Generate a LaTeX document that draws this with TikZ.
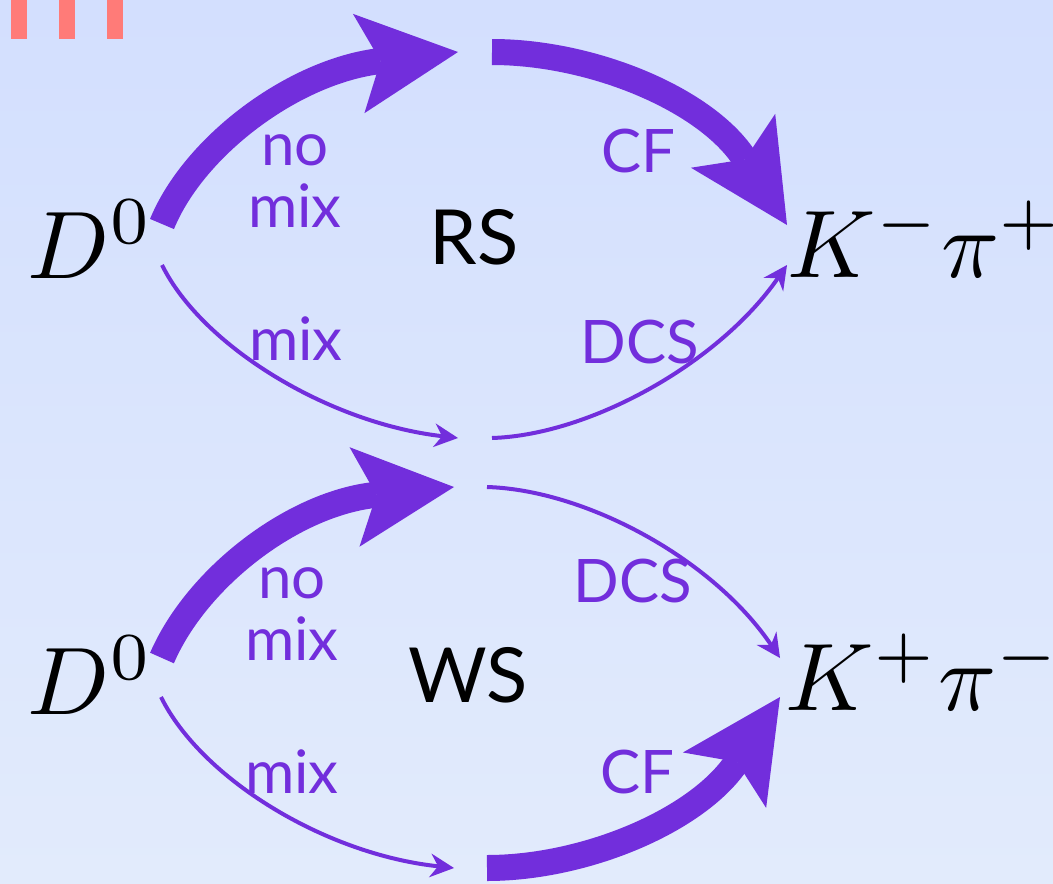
\documentclass[tikz,border=0pt]{standalone}
\usepackage{fontspec}
\newfontfamily\labelfont{Lato}
\usetikzlibrary{arrows.meta}
\definecolor{bgtop}{RGB}{211,223,254}
\definecolor{bgbot}{RGB}{226,235,252}
\definecolor{flow}{RGB}{114,46,220}
\definecolor{titlered}{RGB}{255,123,120}
\tikzset{
  thick flow/.style={draw=flow, line width=26pt,
    -{Stealth[length=100pt,width=100pt,inset=22pt,line width=0pt]}},
  thin flow/.style={draw=flow, line width=4pt,
    -{Stealth[length=24pt,width=24pt,inset=8pt,line width=0pt]}},
  state/.style={inner sep=0pt, anchor=base west, font=\fontsize{10}{12}\selectfont,
    scale=9.6, transform shape},
  tag/.style={inner sep=0pt, anchor=base, text=flow, font=\labelfont\fontsize{60}{62}\selectfont},
  kind/.style={inner sep=0pt, anchor=base, font=\labelfont\fontsize{76}{76}\selectfont},
}
\begin{document}
\begin{tikzpicture}[x=1pt,y=-1pt]
\useasboundingbox (0,0) rectangle (1053,884);
\shade[top color=bgtop, bottom color=bgbot] (0,0) rectangle (1053,884);

% title remnants along the top edge
\fill[titlered] (11,0) rectangle (27,39);
\fill[titlered] (59,0) rectangle (75,39);
\fill[titlered] (107,0) rectangle (123,39);

% states
\node[state] (d0a) at (26,278) {$D^0$};
\node[state] (kpa) at (786,277) {$K^-\pi^+$};
\node[state] (d0b) at (26,714) {$D^0$};
\node[state] (kpb) at (784,710) {$K^+\pi^-$};

% ends of the connectors
\coordinate (a1s) at (162,224); \coordinate (a1e) at (458,52);
\coordinate (a2s) at (492,52);  \coordinate (a2e) at (787,225);
\coordinate (a3s) at (162,265); \coordinate (a3e) at (458,438);
\coordinate (a4s) at (492,438); \coordinate (a4e) at (787,265);
\coordinate (b1s) at (162,658); \coordinate (b1e) at (454,487);
\coordinate (b2s) at (487,487); \coordinate (b2e) at (780,658);
\coordinate (b3s) at (161,697); \coordinate (b3e) at (454,868);
\coordinate (b4s) at (487,868); \coordinate (b4e) at (780,697);

% right-sign decay
\draw[thick flow] (a1s) .. controls (194,146) and (294,71) .. (a1e);
\draw[thick flow] (a2s) .. controls (593,52) and (707,100) .. (a2e);
\draw[thin flow] (a3s) .. controls (202,346) and (328,423) .. (a3e);
\draw[thin flow] (a4s) .. controls (590,435) and (719,363) .. (a4e);

% wrong-sign decay
\draw[thick flow] (b1s) .. controls (197,577) and (294,503) .. (b1e);
\draw[thin flow] (b2s) .. controls (585,490) and (712,558) .. (b2e);
\draw[thin flow] (b3s) .. controls (201,778) and (324,854) .. (b3e);
\draw[thick flow] (b4s) .. controls (586,868) and (698,820) .. (b4e);

% labels
\node[tag] (nmA1) at (295,165) {no};
\node[tag] (nmA2) at (295,227) {mix};
\node[tag] (cfA) at (638,172) {CF};
\node[tag] (mxA) at (296,360) {mix};
\node[tag] (dcsA) at (640,363) {DCS};
\node[kind] (rs) at (474,264) {RS};

\node[tag] (nmB1) at (292,598) {no};
\node[tag] (nmB2) at (292,660) {mix};
\node[tag] (dcsB) at (633,602) {DCS};
\node[tag] (mxB) at (292,793) {mix};
\node[tag] (cfB) at (637,793) {CF};
\node[kind] (ws) at (468,702) {WS};
\end{tikzpicture}
\end{document}
